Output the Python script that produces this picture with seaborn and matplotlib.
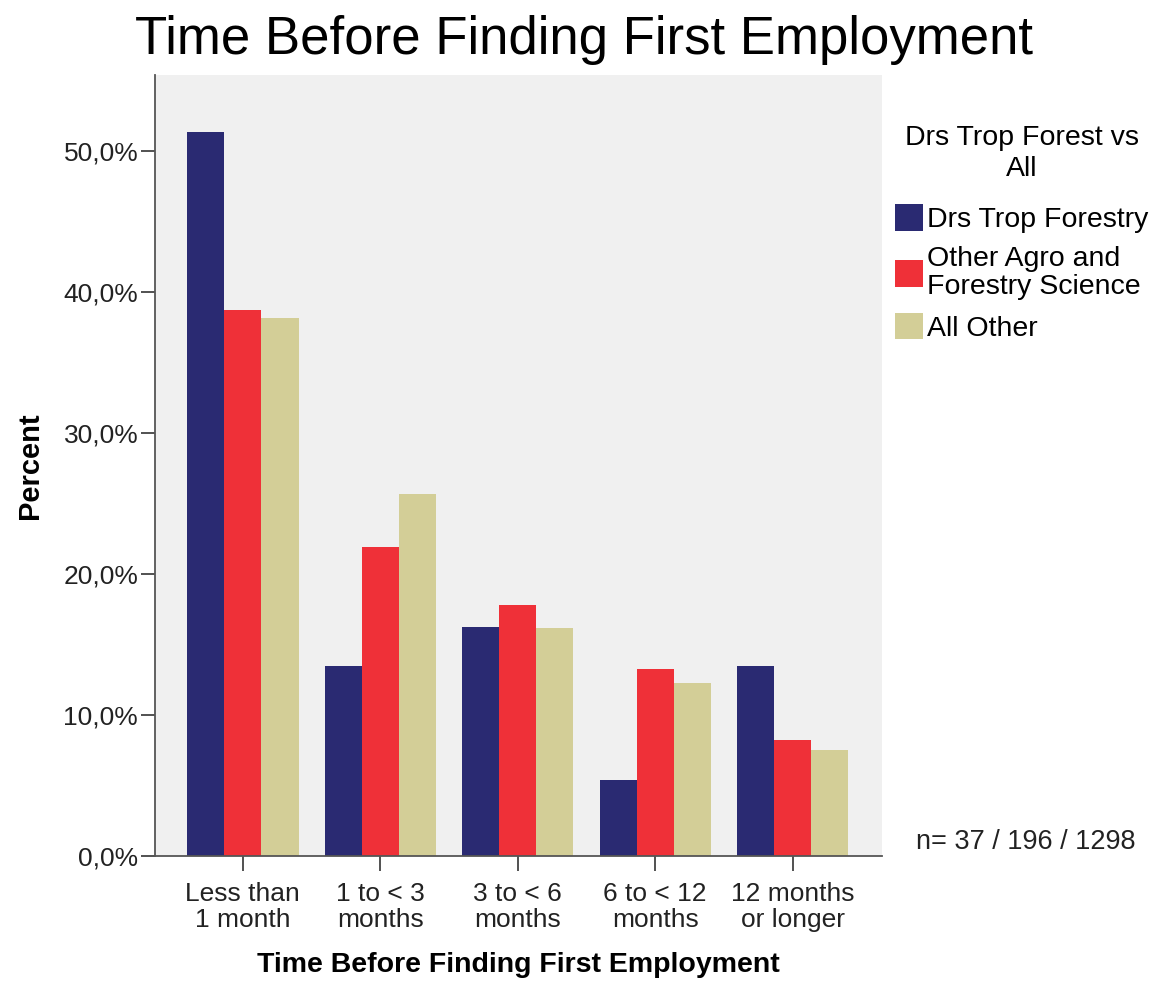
import pandas as pd
import numpy as np
import matplotlib
matplotlib.use('Agg')
import matplotlib.pyplot as plt
from matplotlib.ticker import FuncFormatter
import seaborn as sns

# categories and group values (percent)
categories = ['Less than\n1 month', '1 to < 3\nmonths', '3 to < 6\nmonths',
              '6 to < 12\nmonths', '12 months\nor longer']
groups = ['Drs Trop Forestry', 'Other Agro and\nForestry Science', 'All Other']
drs_trop = [51.35, 13.51, 16.22, 5.41, 13.51]
other_agro = [38.7, 21.9, 17.8, 13.3, 8.2]
all_other = [38.2, 25.7, 16.2, 12.3, 7.5]
colors = ['#2a2a72', '#ef3038', '#d3ce97']

df = pd.DataFrame({
    'Category': categories * 3,
    'Group': [g for g in groups for _ in categories],
    'Percent': drs_trop + other_agro + all_other,
})

plt.rcParams['font.family'] = ['Liberation Sans', 'DejaVu Sans']

fig = plt.figure(figsize=(11.56, 9.81), dpi=100)
ax = fig.add_axes([0.134, 0.1274, 0.629, 0.7961])
ax.set_facecolor('#f0f0f0')

sns.barplot(data=df, x='Category', y='Percent', hue='Group',
            palette=colors, width=0.81, saturation=1, ax=ax,
            edgecolor='none', linewidth=0)

ax.set_xlim(-0.64, 4.65)
ax.set_ylim(0, 55.4)
ax.set_yticks([0, 10, 20, 30, 40, 50])
ax.yaxis.set_major_formatter(FuncFormatter(lambda v, p: f'{v:.1f}%'.replace('.', ',')))
ax.tick_params(axis='both', labelsize=19, length=10, width=1.2, color='#333333',
               labelcolor='#222222')
ax.tick_params(axis='y', pad=2)
ax.tick_params(axis='x', length=11, pad=8)
for lbl in ax.get_xticklabels():
    lbl.set_linespacing(1.1)

for s in ['top', 'right']:
    ax.spines[s].set_visible(False)
for s in ['left', 'bottom']:
    ax.spines[s].set_color('#555555')
    ax.spines[s].set_linewidth(1.3)

ax.set_ylabel('Percent', fontsize=21, fontweight='bold', labelpad=14)
ax.set_xlabel('Time Before Finding First Employment', fontsize=20.5,
              fontweight='bold', labelpad=14)

fig.suptitle('Time Before Finding First Employment', fontsize=38,
             x=0.505, y=0.985, va='top')

leg = ax.legend(title='Drs Trop Forest vs\nAll', loc='upper left',
                bbox_to_anchor=(0.995, 0.958), frameon=False, fontsize=20.5,
                title_fontsize=20.5, handlelength=0.95, handleheight=1.05,
                handletextpad=0.15, labelspacing=0.45, borderaxespad=0.2)
leg.get_title().set_multialignment('center')
leg.get_title().set_linespacing(1.25)
for t in leg.get_texts():
    t.set_linespacing(1.1)
# a bit more room between the legend title and the entries
leg._legend_box.sep += 7

fig.text(0.887, 0.135, 'n= 37 / 196 / 1298', fontsize=19.5, ha='center', color='#222222')

fig.savefig('out.png', dpi=100)
